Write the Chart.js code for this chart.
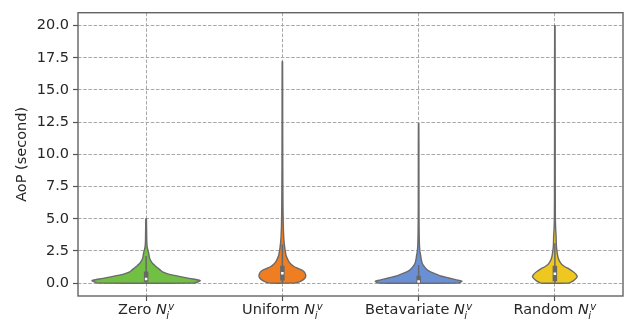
<!DOCTYPE html>
<html><head><meta charset="utf-8">
<script src="https://cdn.jsdelivr.net/npm/chart.js@4.4.1/dist/chart.umd.min.js"></script>
<style>html,body{margin:0;padding:0;background:#fff}#wrap{width:634px;height:321px}</style>
</head><body><div id="wrap"><canvas id="c" width="634" height="321"></canvas></div>
<script>
// ---- data ----
const categories = ['Zero', 'Uniform', 'Betavariate', 'Random'];
const symbolBase = 'N', symbolSub = 'i', symbolSup = 'v';
const yTicks = [0, 2.5, 5, 7.5, 10, 12.5, 15, 17.5, 20];
const yTitle = 'AoP (second)';

// violin outlines: AoP levels (seconds) and kernel-density half widths (category units)
const zeroLevels  = [0, 0.1, 0.2, 0.35, 0.52, 0.7, 0.85, 1.0, 1.15, 1.3, 1.4, 1.55, 1.65, 1.8, 2.0, 2.2, 2.4, 2.6, 2.8, 3.2, 3.8, 4.5, 5.0];
const zeroDensity = [0.353, 0.382, 0.397, 0.331, 0.243, 0.165, 0.125, 0.106, 0.088, 0.07, 0.061, 0.046, 0.04, 0.031, 0.024, 0.021, 0.017, 0.012, 0.008, 0.005, 0.004, 0.003, 0.002];

const uniformLevels  = [0, 0.1, 0.27, 0.45, 0.65, 0.85, 1.02, 1.15, 1.27, 1.45, 1.65, 1.9, 2.15, 2.5, 2.77, 3.2, 3.65, 4.5, 6, 9, 13, 17.2];
const uniformDensity = [0.088, 0.125, 0.154, 0.169, 0.171, 0.162, 0.143, 0.114, 0.088, 0.066, 0.049, 0.037, 0.027, 0.021, 0.017, 0.0125, 0.0096, 0.0066, 0.0044, 0.0029, 0.0022, 0.0015];

const betaLevels  = [0, 0.15, 0.25, 0.4, 0.55, 0.77, 0.95, 1.15, 1.35, 1.52, 1.8, 2.15, 2.45, 3, 4, 6, 9, 12.4];
const betaDensity = [0.294, 0.318, 0.279, 0.221, 0.162, 0.110, 0.074, 0.051, 0.037, 0.027, 0.020, 0.015, 0.0096, 0.0059, 0.0037, 0.0026, 0.0022, 0.0015];

const randomLevels  = [0, 0.15, 0.35, 0.52, 0.7, 0.9, 1.1, 1.27, 1.45, 1.65, 1.9, 2.15, 2.5, 2.9, 3.67, 4.2, 5, 8, 14, 20];
const randomDensity = [0.103, 0.132, 0.154, 0.164, 0.154, 0.132, 0.103, 0.074, 0.051, 0.037, 0.026, 0.020, 0.015, 0.011, 0.0088, 0.0059, 0.0037, 0.0026, 0.0022, 0.0015];

// inner box statistics
const quartile1   = [0.1, 0.2, 0.0, 0.15];
const medians     = [0.32, 0.77, 0.12, 0.73];
const quartile3   = [0.9, 1.35, 0.57, 1.35];
const whiskerLow  = [0, 0, 0, 0];
const whiskerHigh = [2.1, 3.0, 1.4, 3.1];

const fillColors = ['#72c043', '#ef7d22', '#6b8fd5', '#efc81f'];

// ---- build ----
const levelSets = [zeroLevels, uniformLevels, betaLevels, randomLevels];
const densitySets = [zeroDensity, uniformDensity, betaDensity, randomDensity];
const outline = '#6a6a6a';
const gridColor = '#a8a8a8';
const textColor = '#262626';
const FONT = 'DejaVu Sans';
const FS = 14.5;

const datasets = [];
levelSets.forEach((lv, i) => {
  const d = densitySets[i];
  const pts = [];
  for (let k = 0; k < lv.length; k++) pts.push({x: i + d[k], y: lv[k]});
  for (let k = lv.length - 1; k >= 0; k--) pts.push({x: i - d[k], y: lv[k]});
  pts.push({x: i + d[0], y: lv[0]});
  datasets.push({data: pts, showLine: true, fill: 'shape', backgroundColor: fillColors[i],
    borderColor: outline, borderWidth: 1.4, pointRadius: 0, tension: 0.25, order: 3});
  datasets.push({data: [{x: i, y: whiskerLow[i]}, {x: i, y: whiskerHigh[i]}], showLine: true,
    borderColor: '#686868', borderWidth: 1.5, pointRadius: 0, order: 2});
  datasets.push({data: [{x: i, y: quartile1[i]}, {x: i, y: quartile3[i]}], showLine: true,
    borderColor: '#686868', borderWidth: 4.5, borderCapStyle: 'butt', pointRadius: 0, order: 1});
  datasets.push({data: [{x: i, y: medians[i]}], showLine: false, pointRadius: 1.8,
    pointStyle: 'rect', pointBackgroundColor: '#ffffff', pointBorderWidth: 0, order: 0});
});

const framePlugin = {
  id: 'frameAndLabels',
  afterDraw(chart) {
    const {ctx, chartArea: a} = chart;
    ctx.save();
    ctx.strokeStyle = '#636363';
    ctx.lineWidth = 1.4;
    ctx.setLineDash([]);
    ctx.strokeRect(a.left, a.top, a.right - a.left, a.bottom - a.top);
    // category labels with math symbol N_i^v
    const xs = chart.scales.x;
    ctx.fillStyle = textColor;
    ctx.textBaseline = 'alphabetic';
    ctx.textAlign = 'left';
    const base = xs.top + 17.5;
    const sfs = FS * 0.7;
    categories.forEach((name, i) => {
      const cx = xs.getPixelForValue(i);
      ctx.font = `${FS}px "${FONT}"`;
      const main = name + ' ';
      const w1 = ctx.measureText(main).width;
      ctx.font = `italic ${FS}px "${FONT}"`;
      const wN = ctx.measureText(symbolBase).width;
      ctx.font = `italic ${sfs}px "${FONT}"`;
      const wS = Math.max(ctx.measureText(symbolSub).width, ctx.measureText(symbolSup).width + 1.5);
      const total = w1 + wN + wS;
      let x = cx - total / 2;
      ctx.font = `${FS}px "${FONT}"`;
      ctx.fillText(main, x, base);
      x += w1;
      ctx.font = `italic ${FS}px "${FONT}"`;
      ctx.fillText(symbolBase, x, base);
      x += wN;
      ctx.font = `italic ${sfs}px "${FONT}"`;
      ctx.fillText(symbolSup, x + 1.5, base - 4);
      ctx.fillText(symbolSub, x - 0.5, base + 5.5);
    });
    ctx.restore();
  }
};

new Chart(document.getElementById('c'), {
  type: 'scatter',
  data: {datasets},
  options: {
    responsive: false,
    animation: false,
    devicePixelRatio: 1,
    layout: {padding: {top: 2, right: 11, left: 0, bottom: 0}},
    plugins: {legend: {display: false}, tooltip: {enabled: false}},
    scales: {
      x: {
        type: 'linear', min: -0.5, max: 3.5,
        afterBuildTicks: s => { s.ticks = categories.map((_, i) => ({value: i})); },
        ticks: {display: false},
        grid: {color: gridColor, lineWidth: 1, drawTicks: true, tickLength: 5, tickColor: '#555', tickWidth: 1.2, tickBorderDash: []},
        border: {display: false, dash: [3.5, 1.7]},
        afterFit: s => { s.height = 25; }
      },
      y: {
        type: 'linear', min: -1, max: 21,
        afterBuildTicks: s => { s.ticks = yTicks.map(v => ({value: v})); },
        ticks: {callback: v => Number(v).toFixed(1), color: textColor, padding: 4,
                font: {family: FONT, size: FS}, autoSkip: false},
        grid: {color: gridColor, lineWidth: 1, drawTicks: true, tickLength: 5, tickColor: '#555', tickWidth: 1.2, tickBorderDash: []},
        border: {display: false, dash: [3.5, 1.7]},
        title: {display: true, text: yTitle, color: textColor, font: {family: FONT, size: FS}, padding: {top: 14, bottom: 0}},
        afterFit: s => { s.width = 78; }
      }
    }
  },
  plugins: [framePlugin]
});
</script>
</body></html>
